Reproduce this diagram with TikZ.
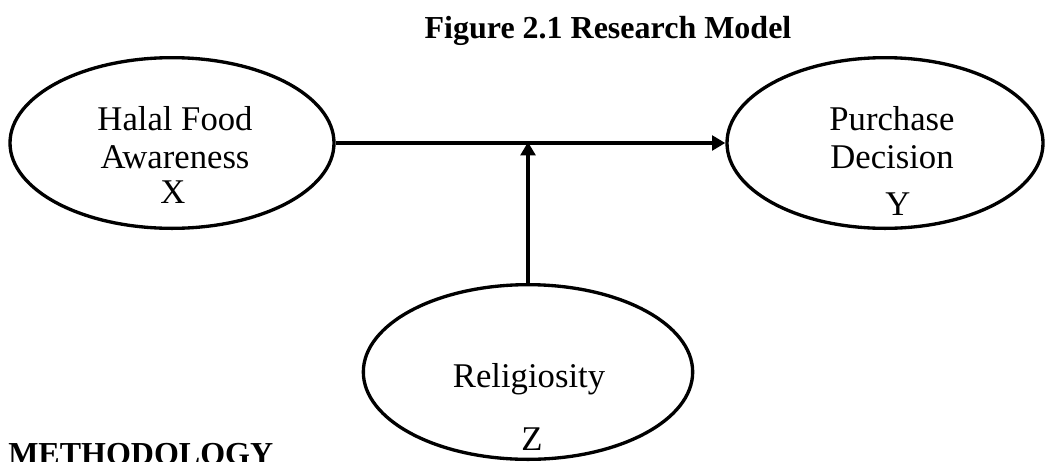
\documentclass[tikz,border=0pt]{standalone}
\usepackage{fontspec}
\setmainfont{Liberation Serif}
\usetikzlibrary{shapes.geometric,arrows.meta}

\tikzset{
  var/.style={draw, ellipse, line width=2.5pt, inner sep=0pt},
  lbl/.style={anchor=base, inner sep=0pt, font=\fontsize{26}{30}\selectfont},
  link/.style={line width=2.6pt, -{Triangle[length=10pt,width=11pt]}}
}

\begin{document}
\begin{tikzpicture}[x=0.75pt, y=-0.75pt]
 \useasboundingbox (0,0) rectangle (1045,461);

	% Titre
 \node[anchor=base, inner sep=0pt, font=\fontsize{24}{28}\selectfont\bfseries] (title) at (608,38) {Figure 2.1 Research Model};

	% Variables
 \node[var, minimum width=243pt, minimum height=128pt] (X) at (172,143) {};
 \node[var, minimum width=237pt, minimum height=128pt] (Y) at (885,143) {};
 \node[var, minimum width=247pt, minimum height=131pt] (Z) at (528,372) {};

 \node[lbl] (Xa) at (175,130) {Halal Food};
 \node[lbl] (Xb) at (175,168) {Awareness};
 \node[lbl] (Xc) at (173,203) {X};

 \node[lbl] (Ya) at (892,130) {Purchase};
 \node[lbl] (Yb) at (892,168) {Decision};
 \node[lbl] (Yc) at (898,215) {Y};

 \node[lbl] (Za) at (529,387) {Religiosity};
 \node[lbl] (Zc) at (532,450) {Z};

	% Liaisons
 \coordinate (mod) at (528,142);
 \draw[link] (X.east) -- (Y.west);
 \draw[link] (Z.north) -- (mod);

	% Section suivante
 \node[anchor=base west, inner sep=0pt, font=\fontsize{24}{28}\selectfont\bfseries] (meth) at (8,464) {METHODOLOGY};

\end{tikzpicture}
\end{document}
